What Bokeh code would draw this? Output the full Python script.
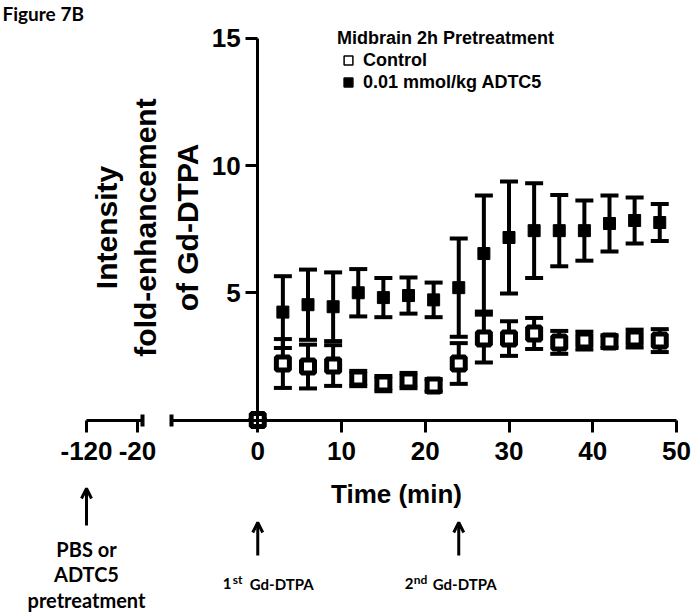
import math
from bokeh.plotting import figure
from bokeh.models import (Range1d, LinearAxis, FixedTicker, Whisker, TeeHead,
                          ColumnDataSource, Label, Arrow, OpenHead, Legend, LegendItem)
from bokeh.embed import file_html
from bokeh.resources import INLINE

# ---------------- data ----------------
time_min = [0, 3, 6, 9, 12, 15, 18, 21, 24, 27, 30, 33, 36, 39, 42, 45, 48]
adtc_mean = [0, 4.24, 4.53, 4.45, 5.0, 4.81, 4.89, 4.72, 5.2, 6.54, 7.17, 7.44, 7.44, 7.44, 7.72, 7.84, 7.76]
adtc_err = [0, 1.41, 1.38, 1.35, 0.93, 0.77, 0.71, 0.68, 1.93, 2.28, 2.2, 1.86, 1.4, 1.18, 1.1, 0.9, 0.73]
ctrl_mean = [0, 2.22, 2.1, 2.14, 1.63, 1.43, 1.55, 1.36, 2.22, 3.2, 3.2, 3.4, 3.05, 3.12, 3.08, 3.2, 3.12]
ctrl_err = [0, 0.96, 0.86, 0.8, 0.3, 0.3, 0.3, 0.25, 0.8, 0.94, 0.68, 0.61, 0.45, 0.35, 0.25, 0.35, 0.45]

x_ticks = [0, 10, 20, 30, 40, 50]
pre_ticks = [-120, -20]
pre_labels = {-120: "-120", -20: "-20"}
y_ticks = [5, 10, 15]
inj_times = [0, 24]
inj_nums = [("1", "st"), ("2", "nd")]
pre_time = -120

# ---------------- layout helpers ----------------
W, H = 698, 616
KX, KY = 8.375, 25.45          # px per unit
X0PX, Y0PX = 257.25, 419.5     # pixel of data origin inside figure
XS, XE = -X0PX / KX, (W - X0PX) / KX
YE, YS = Y0PX / KY, -(H - Y0PX) / KY
KP, P0PX = 0.51, 86.0          # pre-treatment segment scale
PS, PE = pre_time - P0PX / KP, pre_time + (W - P0PX) / KP


def fx(px):
    return XS + px / KX


def fy(py):
    return YE - py / KY


FONT = "Liberation Sans"
FONT2 = "Lato"

p = figure(width=W, height=H, x_range=Range1d(XS, XE), y_range=Range1d(YS, YE),
           x_axis_type=None, y_axis_type=None, output_backend="svg",
           toolbar_location=None, min_border=0)
p.outline_line_color = None
p.background_fill_color = "white"
p.border_fill_color = "white"
p.extra_x_ranges = {"pre": Range1d(PS, PE)}

axis_style = dict(axis_line_width=3, axis_line_color="black",
                  major_tick_line_width=3, major_tick_line_color="black",
                  major_tick_in=0, major_tick_out=12,
                  minor_tick_line_color=None,
                  major_label_text_font=FONT, major_label_text_font_style="bold",
                  major_label_text_font_size="26px", major_label_text_color="black")

xa = LinearAxis(fixed_location=0, bounds=(-10.3, 50), ticker=FixedTicker(ticks=x_ticks),
                major_label_standoff=10, **axis_style)
p.add_layout(xa, "below")

pa = LinearAxis(x_range_name="pre", fixed_location=0, bounds=(-120, -10.2),
                ticker=FixedTicker(ticks=pre_ticks), major_label_overrides=pre_labels,
                major_label_standoff=10, **axis_style)
p.add_layout(pa, "below")

cap_style = dict(axis_line_color=None, major_tick_in=6, major_tick_out=6,
                 major_tick_line_width=4, major_tick_line_color="black",
                 minor_tick_line_color=None, major_label_text_color=None)
p.add_layout(LinearAxis(fixed_location=0, ticker=FixedTicker(ticks=[-10.3]), **cap_style), "below")
p.add_layout(LinearAxis(x_range_name="pre", fixed_location=0,
                        ticker=FixedTicker(ticks=[-10.2]), **cap_style), "below")

ya = LinearAxis(fixed_location=0, bounds=(0, 15), ticker=FixedTicker(ticks=y_ticks),
                major_label_standoff=5, **axis_style)
p.add_layout(ya, "left")

# ---------------- data marks ----------------
src_a = ColumnDataSource(dict(t=time_min, m=adtc_mean,
                              lo=[m - e for m, e in zip(adtc_mean, adtc_err)],
                              hi=[m + e for m, e in zip(adtc_mean, adtc_err)]))
src_c = ColumnDataSource(dict(t=time_min, m=ctrl_mean,
                              lo=[m - e for m, e in zip(ctrl_mean, ctrl_err)],
                              hi=[m + e for m, e in zip(ctrl_mean, ctrl_err)]))

for src in (src_a, src_c):
    p.add_layout(Whisker(source=src, base="t", lower="lo", upper="hi", dimension="height",
                         line_width=4, line_color="black", level="underlay",
                         upper_head=TeeHead(size=18, line_width=4, line_color="black"),
                         lower_head=TeeHead(size=18, line_width=4, line_color="black")))

p.scatter("t", "m", source=src_a, marker="square", size=12,
          fill_color="black", line_color="black", line_width=1)
p.scatter("t", "m", source=src_c, marker="square", size=13,
          fill_color="white", line_color="black", line_width=5)

# ---------------- legend ----------------
nan = float("nan")
leg_c = p.scatter(x=[nan], y=[nan], marker="square", size=9, fill_color="white",
                  line_color="black", line_width=1.5)
leg_a = p.scatter(x=[nan], y=[nan], marker="square", size=9, fill_color="black",
                  line_color="black", line_width=1.5)
legend = Legend(items=[LegendItem(label="Control", renderers=[leg_c]),
                       LegendItem(label="0.01 mmol/kg ADTC5", renderers=[leg_a])],
                title="Midbrain 2h Pretreatment", location=(337, 523),
                title_text_font=FONT, title_text_font_style="bold", title_text_font_size="18px",
                title_text_color="black",
                label_text_font=FONT, label_text_font_style="bold", label_text_font_size="18px",
                label_text_color="black",
                glyph_width=22, glyph_height=22, label_height=22, label_standoff=4,
                spacing=0, padding=0, margin=0, title_standoff=0,
                border_line_color=None, background_fill_alpha=0)
p.add_layout(legend)

# ---------------- texts ----------------
def lab(x, y, text, size, font=FONT, align="center", angle=0, rng="default", xoff=0):
    p.add_layout(Label(x=x, y=y, text=text, text_align=align, text_baseline="middle",
                       text_font=font, text_font_style="bold", text_font_size=size,
                       text_color="black", angle=angle, angle_units="rad",
                       x_range_name=rng, x_offset=xoff))


lab(XS, fy(13), "Figure 7B", "19px", font=FONT2, align="left", xoff=2)
lab(fx(396), fy(493), "Time (min)", "26px")
lab(fx(106), fy(227), "Intensity", "30px", angle=math.pi / 2)
lab(fx(145), fy(227), "fold-enhancement", "30px", angle=math.pi / 2)
lab(fx(187), fy(227), "of Gd-DTPA", "30px", angle=math.pi / 2)

for i, txt in enumerate(["PBS or", "ADTC5", "pretreatment"]):
    lab(pre_time, fy(548 + 25.5 * i), txt, "20px", font=FONT2, rng="pre")

p.add_layout(Arrow(end=OpenHead(size=10, line_width=3, line_color="black"),
                   x_start=pre_time, x_end=pre_time, y_start=fy(525), y_end=fy(488),
                   line_width=3, line_color="black", x_range_name="pre"))

offs = [(-35, -25, -8), (-54, -45, -26)]
for tx, (num, sup), (o1, o2, o3) in zip(inj_times, inj_nums, offs):
    p.add_layout(Arrow(end=OpenHead(size=10, line_width=3, line_color="black"),
                       x_start=tx, x_end=tx, y_start=fy(555), y_end=fy(522),
                       line_width=3, line_color="black"))
    lab(tx, fy(583), num, "15px", font=FONT2, align="left", xoff=o1)
    lab(tx, fy(579), sup, "12px", font=FONT2, align="left", xoff=o2)
    lab(tx, fy(583), "Gd-DTPA", "15px", font=FONT2, align="left", xoff=o3)

open("out.html", "w").write(file_html(p, INLINE))
